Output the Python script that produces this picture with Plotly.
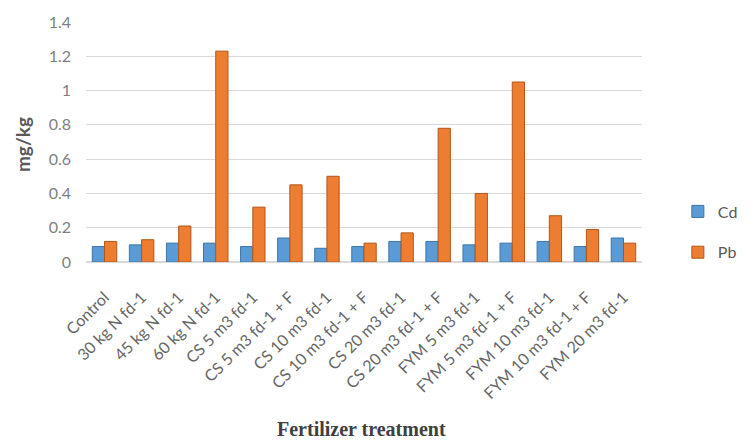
import plotly.graph_objects as go

treatments = [
    "Control", "30 kg N fd-1", "45 kg N fd-1", "60 kg N fd-1",
    "CS 5 m3 fd-1", "CS 5 m3 fd-1 + F", "CS 10 m3 fd-1", "CS 10 m3 fd-1 + F",
    "CS 20 m3 fd-1", "CS 20 m3 fd-1 + F", "FYM 5 m3 fd-1", "FYM 5 m3 fd-1 + F",
    "FYM 10 m3 fd-1", "FYM 10 m3 fd-1 + F", "FYM 20 m3 fd-1",
]
cd_values = [0.09, 0.10, 0.11, 0.11, 0.09, 0.14, 0.08, 0.09, 0.12, 0.12, 0.10, 0.11, 0.12, 0.09, 0.14]
pb_values = [0.12, 0.13, 0.21, 1.23, 0.32, 0.45, 0.50, 0.11, 0.17, 0.78, 0.40, 1.05, 0.27, 0.19, 0.11]
y_ticks = [0, 0.2, 0.4, 0.6, 0.8, 1.0, 1.2, 1.4]
y_tick_text = ["0", "0.2", "0.4", "0.6", "0.8", "1", "1.2", "1.4"]

fig = go.Figure()
fig.add_trace(go.Bar(
    name="Cd", x=treatments, y=cd_values, legendgroup="cd",
    marker=dict(color="#5b9bd5", line=dict(color="#3a74a8", width=1)),
))
fig.add_trace(go.Bar(
    name="Pb", x=treatments, y=pb_values, legendgroup="pb",
    marker=dict(color="#ed7d31", line=dict(color="#b3561a", width=1)),
))

fig.update_layout(
    width=755, height=442,
    margin=dict(l=86, r=95, t=22, b=180),
    paper_bgcolor="white", plot_bgcolor="white",
    barmode="group", bargap=0.34, bargroupgap=0.0,
    font=dict(family="Lato, Open Sans, sans-serif", color="#7f7f7f"),
    showlegend=True,
    legend=dict(
        x=1.0645, y=0.125, xanchor="left", yanchor="middle",
        font=dict(size=16, color="#595959"),
        traceorder="grouped", tracegroupgap=17, itemwidth=30,
    ),
    xaxis=dict(
        tickangle=-45, tickfont=dict(size=16, color="#666666"),
        showgrid=False, showline=False, ticks="", ticklabelstandoff=22,
    ),
    yaxis=dict(
        range=[0, 1.4], tickvals=y_ticks, ticktext=y_tick_text,
        tickfont=dict(size=16, color="#7f7f7f"),
        showgrid=True, gridcolor="#d9d9d9", gridwidth=1,
        zeroline=True, zerolinecolor="#d9d9d9", showline=False, ticklen=0,
        ticklabelstandoff=14,
    ),
    annotations=[
        dict(text="<b>mg/kg</b>", xref="paper", yref="paper", x=-0.115, y=0.4875,
             xanchor="center", yanchor="middle",
             textangle=-90, showarrow=False,
             font=dict(size=19, color="#595959", family="Lato, sans-serif")),
        dict(text="<b>Fertilizer treatment</b>", xref="paper", yref="paper",
             x=0.495, y=-0.695, xanchor="center", yanchor="middle", showarrow=False,
             font=dict(size=20, color="#404040", family="Liberation Serif, serif")),
    ],
)

fig.write_html("out.html")
